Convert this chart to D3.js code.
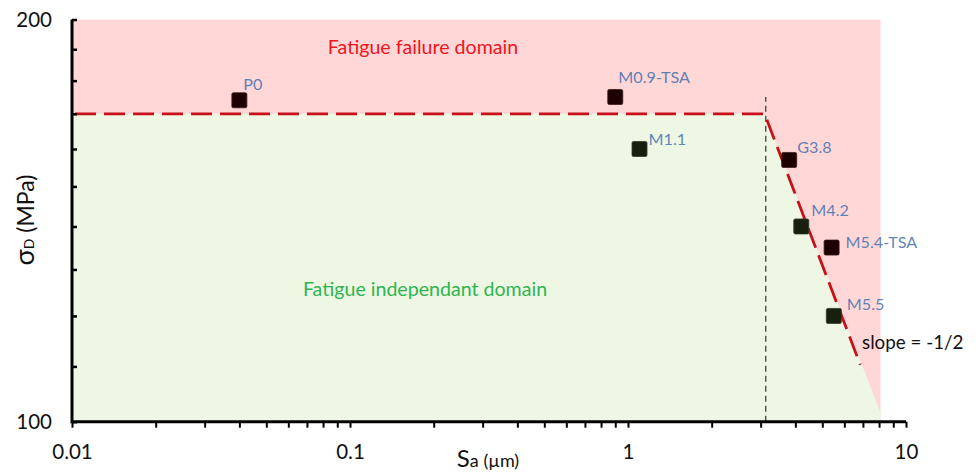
<!DOCTYPE html>
<html><head><meta charset="utf-8">
<script src="https://cdn.jsdelivr.net/npm/d3@7"></script>
<style>body{margin:0;background:#fff}svg{display:block;font-family:Lato,"Open Sans",sans-serif}</style>
</head><body><svg id="c" width="978" height="473"></svg>
<script>
// ---- data ----
const samples = ["P0","M0.9-TSA","M1.1","G3.8","M4.2","M5.4-TSA","M5.5"];
const saValues = [0.04, 0.9, 1.1, 3.8, 4.2, 5.4, 5.5];
const sigmaValues = [174, 175, 160, 157, 140, 135, 120];
const failed = [true, true, false, true, false, true, false];
const xTickLabels = [0.01, 0.1, 1, 10];
const yTickLabels = [100, 200];
const boundarySa = [0.01, 3.1, 6.85];
const boundarySigma = [170, 170, 110.3];
const domainSa = [0.01, 3.1, 8.1, 8.1, 0.01];
const domainSigma = [170, 170, 101.5, 100, 100];
const pinkSa = [0.01, 8.1];
const pinkSigma = [100, 200];
const kneeSa = [3.13, 3.13];
const kneeSigma = [100, 175];

// ---- layout ----
const labelOffsets = [[4,-10],[3,-14],[9,-4],[8,-7],[10,-10],[14,0],[13,-6]];
const svg = d3.select("#c");
const x = d3.scaleLog().domain([0.01, 10]).range([72, 906]);
const y = d3.scaleLog().domain([100, 200]).range([421.7, 19.5]);

// pink failure domain
svg.append("rect")
  .attr("x", x(pinkSa[0])).attr("y", y(pinkSigma[1]))
  .attr("width", x(pinkSa[1]) - x(pinkSa[0]))
  .attr("height", y(pinkSigma[0]) - y(pinkSigma[1]))
  .attr("fill", "#ffd7d7");

// green independent domain
svg.append("path")
  .datum(domainSa.map((s,i)=>[s, domainSigma[i]]))
  .attr("d", d3.line().x(d=>x(d[0])).y(d=>y(d[1])).curve(d3.curveLinearClosed))
  .attr("fill", "#eef7e4");

// knee vertical dashed line
svg.append("line")
  .attr("x1", x(kneeSa[0])).attr("x2", x(kneeSa[1]))
  .attr("y1", y(kneeSigma[0])).attr("y2", y(kneeSigma[1]))
  .attr("stroke", "#333").attr("stroke-width", 1.2).attr("stroke-dasharray", "6,4");

// boundary red dashed
svg.append("path")
  .datum(boundarySa.map((s,i)=>[s, boundarySigma[i]]))
  .attr("d", d3.line().x(d=>x(d[0])).y(d=>y(d[1])))
  .attr("fill", "none").attr("stroke", "#c8101a").attr("stroke-width", 2.8)
  .attr("stroke-dasharray", "21,8").attr("stroke-dashoffset", -3);

// domain texts
svg.append("text").attr("x", 423).attr("y", 54).attr("text-anchor","middle")
  .attr("font-size", 19.6).attr("fill", "#f0141e").text("Fatigue failure domain");
svg.append("text").attr("x", 425).attr("y", 296).attr("text-anchor","middle")
  .attr("font-size", 19.6).attr("fill", "#2fb552").text("Fatigue independant domain");
svg.append("text").attr("x", 862).attr("y", 349)
  .attr("font-size", 18.8).attr("fill", "#111").text("slope = -1/2");

// axes
const xTicks = [];
[0.01,0.1,1].forEach(d=>{for(let k=1;k<10;k++) xTicks.push(d*k);});
xTicks.push(10);
const xAxis = d3.axisBottom(x).tickValues(xTicks).tickSize(6).tickPadding(17)
  .tickFormat(d => xTickLabels.some(v=>Math.abs(v-d)<1e-9) ? String(d) : "");
const gx = svg.append("g").attr("transform","translate(0,421.7)").call(xAxis);
gx.select(".domain").attr("stroke","#000").attr("stroke-width",3)
  .attr("d", `M${x(0.01)},0H${x(10)}`);
gx.selectAll(".tick line").attr("stroke","#000").attr("stroke-width",2);
gx.selectAll(".tick text").attr("font-size",20.5).attr("fill","#111").attr("font-family","Lato");

const yTicks = d3.range(100, 201, 10);
const yAxis = d3.axisLeft(y).tickValues(yTicks).tickSize(-5).tickPadding(20)
  .tickFormat(d => yTickLabels.includes(d) ? String(d) : "");
const gy = svg.append("g").attr("transform","translate(72,0)").call(yAxis);
gy.select(".domain").attr("stroke","#000").attr("stroke-width",3)
  .attr("d", `M0,${y(200)}V${y(100)+1.5}`);
gy.selectAll(".tick line").attr("stroke","#000").attr("stroke-width",2.5);
gy.selectAll(".tick text").attr("font-size",20.5).attr("fill","#111").attr("font-family","Lato");

// points
const pts = samples.map((n,i)=>({n, sa:saValues[i], s:sigmaValues[i], f:failed[i], o:labelOffsets[i]}));
svg.selectAll("rect.pt").data(pts).enter().append("rect").attr("class","pt")
  .attr("x", d=>x(d.sa)-7.5).attr("y", d=>y(d.s)-7.5)
  .attr("width", 15).attr("height", 15).attr("rx", 1.5)
  .attr("fill", d=>d.f ? "#1e0003" : "#17200f")
  .attr("stroke", d=>d.f ? "#3a1a1a" : "#2d3a25").attr("stroke-width", 0.8);
svg.selectAll("text.lbl").data(pts).enter().append("text").attr("class","lbl")
  .attr("x", d=>x(d.sa)+d.o[0]).attr("y", d=>y(d.s)+d.o[1])
  .attr("font-size", 16.2).attr("fill", "#3f6fae").attr("fill-opacity", 0.85)
  .text(d=>d.n);

// axis titles
const yt = svg.append("text").attr("transform","translate(34,220) rotate(-90)")
  .attr("text-anchor","middle").attr("fill","#111");
yt.append("tspan").attr("font-size",27).text("σ");
yt.append("tspan").attr("font-size",14).text("D");
yt.append("tspan").attr("font-size",23).text(" (MPa)");

const xt = svg.append("text").attr("x", 488).attr("y", 467)
  .attr("text-anchor","middle").attr("fill","#111");
xt.append("tspan").attr("font-size",24).text("S");
xt.append("tspan").attr("font-size",18).text("a (µm)");
</script></body></html>
